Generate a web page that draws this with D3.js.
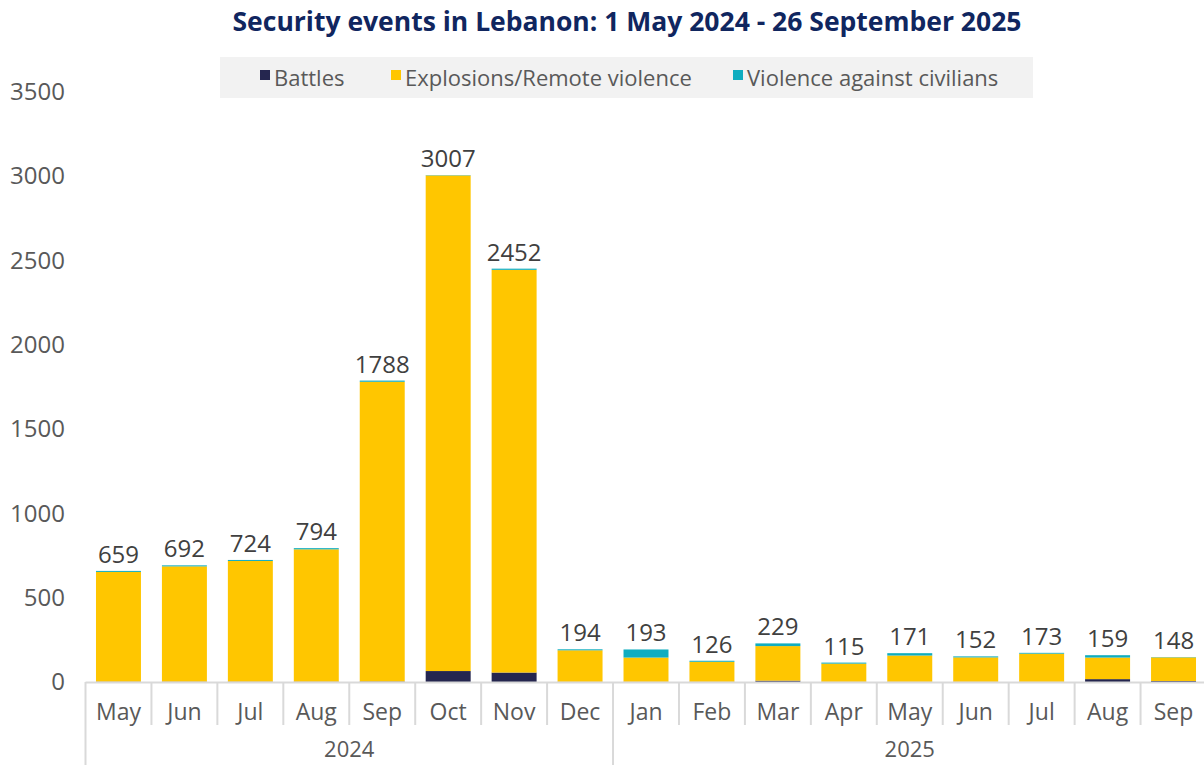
<!DOCTYPE html>
<html>
<head>
<meta charset="utf-8">
<script src="https://cdn.jsdelivr.net/npm/d3@7"></script>
<style>
  html, body { margin: 0; padding: 0; background: #ffffff; }
  svg { display: block; font-family: "Open Sans", "Noto Sans", sans-serif; }
</style>
</head>
<body>
<svg id="chart" width="1204" height="765"></svg>
<script>
// Monthly security events, stacked by event type
const months = ["May","Jun","Jul","Aug","Sep","Oct","Nov","Dec","Jan","Feb","Mar","Apr","May","Jun","Jul","Aug","Sep"];
const years = [
  { label: "2024", from: 0, to: 8 },
  { label: "2025", from: 8, to: 17 }
];
const battles     = [2, 2, 2, 2, 3, 65, 56, 1, 1, 1, 8, 1, 1, 1, 1, 17, 6];
const explosions  = [651, 684, 716, 785, 1778, 2940, 2389, 187, 144, 119, 205, 108, 156, 145, 167, 128, 140];
const civilians   = [6, 6, 6, 7, 7, 2, 7, 6, 48, 6, 16, 6, 14, 6, 5, 14, 2];
const totals      = [659, 692, 724, 794, 1788, 3007, 2452, 194, 193, 126, 229, 115, 171, 152, 173, 159, 148];
const yTicks      = [0, 500, 1000, 1500, 2000, 2500, 3000, 3500];

const seriesNames = ["Battles", "Explosions/Remote violence", "Violence against civilians"];
const colors = ["#25264f", "#ffc600", "#0fadc0"];

const svg = d3.select("#chart");
const W = 1204;

const rows = months.map((m, i) => ({
  idx: String(i),
  "Battles": battles[i],
  "Explosions/Remote violence": explosions[i],
  "Violence against civilians": civilians[i]
}));

const x = d3.scaleBand()
  .domain(months.map((m, i) => String(i)))
  .range([85.5, 1206.5])
  .paddingInner(0.318)
  .paddingOuter(0.159);
const step = x.step();

const y = d3.scaleLinear().domain([0, 3500]).range([682, 92]);

// Title
svg.append("text")
  .attr("x", 627).attr("y", 31)
  .attr("text-anchor", "middle")
  .attr("font-size", 26.5).attr("font-weight", 700)
  .attr("fill", "#10265f")
  .text("Security events in Lebanon: 1 May 2024 - 26 September 2025");

// Legend
const legend = svg.append("g");
legend.append("rect")
  .attr("x", 220).attr("y", 57).attr("width", 813).attr("height", 41)
  .attr("fill", "#f2f2f2");
const legendX = [260, 391, 733];
seriesNames.forEach((name, i) => {
  legend.append("rect")
    .attr("x", legendX[i]).attr("y", 70).attr("width", 10).attr("height", 10)
    .attr("fill", colors[i]);
  legend.append("text")
    .attr("x", legendX[i] + 14).attr("y", 86)
    .attr("font-size", 22).attr("fill", "#595959")
    .text(name);
});

// Y axis labels (no axis line or gridlines)
const yAxis = d3.axisLeft(y).tickValues(yTicks).tickFormat(d3.format("d")).tickSize(0).tickPadding(0);
const yg = svg.append("g").attr("transform", "translate(65,0)").call(yAxis);
yg.select(".domain").remove();
yg.selectAll("text")
  .attr("font-size", 24)
  .attr("font-family", "Open Sans, Noto Sans, sans-serif")
  .attr("fill", "#595959");

// Stacked bars
const stack = d3.stack().keys(seriesNames);
const layers = stack(rows);
svg.append("g").selectAll("g")
  .data(layers)
  .join("g")
  .attr("fill", (d, i) => colors[i])
  .selectAll("rect")
  .data(d => d)
  .join("rect")
  .attr("x", d => x(d.data.idx))
  .attr("width", x.bandwidth())
  .attr("y", d => y(d[1]))
  .attr("height", d => Math.max(0, y(d[0]) - y(d[1])));

// Total labels
svg.append("g").selectAll("text")
  .data(totals)
  .join("text")
  .attr("x", (d, i) => x(String(i)) + x.bandwidth() / 2)
  .attr("y", d => y(d) - 8)
  .attr("text-anchor", "middle")
  .attr("font-size", 24)
  .attr("fill", "#404040")
  .text(d => d);

// Category axis: baseline, month separators, year groups
const axisG = svg.append("g");
const gridColor = "#d9d9d9";
axisG.append("line")
  .attr("x1", 85.5).attr("x2", W)
  .attr("y1", 682.5).attr("y2", 682.5)
  .attr("stroke", gridColor).attr("stroke-width", 2);

const start = x.range()[0];
d3.range(months.length + 1).forEach(i => {
  const xp = start + i * step;
  const isYearEdge = years.some(yy => yy.from === i);
  axisG.append("line")
    .attr("x1", xp).attr("x2", xp)
    .attr("y1", 682).attr("y2", isYearEdge ? 765 : 725)
    .attr("stroke", gridColor).attr("stroke-width", 2);
});

axisG.selectAll("text.month")
  .data(months)
  .join("text")
  .attr("class", "month")
  .attr("x", (d, i) => x(String(i)) + x.bandwidth() / 2)
  .attr("y", 720)
  .attr("text-anchor", "middle")
  .attr("font-size", 23)
  .attr("fill", "#595959")
  .text(d => d);

axisG.selectAll("text.year")
  .data(years)
  .join("text")
  .attr("class", "year")
  .attr("x", d => start + (d.from + d.to) / 2 * step)
  .attr("y", 757)
  .attr("text-anchor", "middle")
  .attr("font-size", 22)
  .attr("fill", "#595959")
  .text(d => d.label);
</script>
</body>
</html>
